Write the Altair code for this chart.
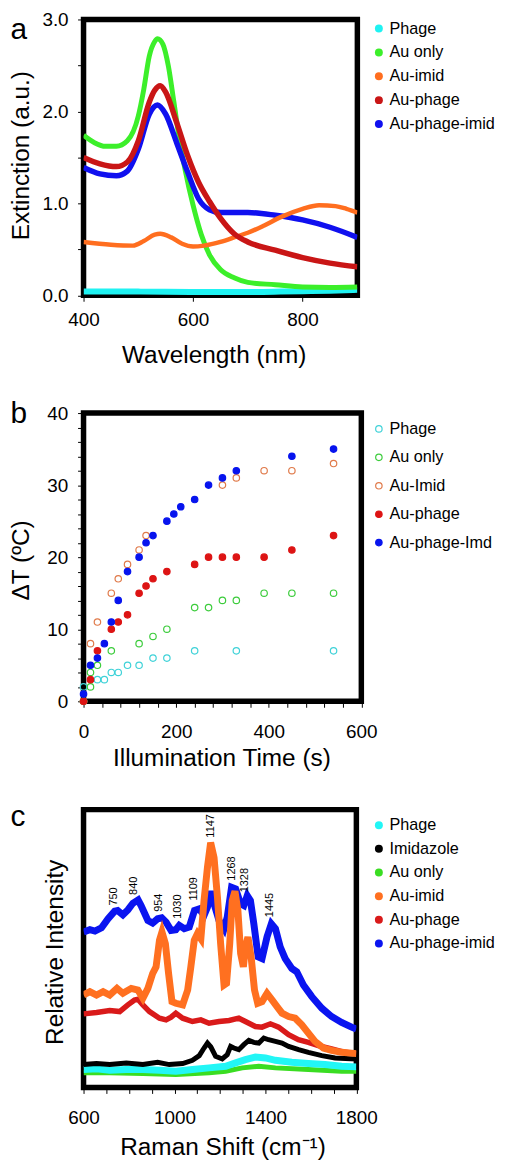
import altair as alt
import pandas as pd

FONT = "Liberation Sans"

# ---------------- Panel a : extinction spectra ----------------
a_series = ["Phage", "Au only", "Au-imid", "Au-phage", "Au-phage-imid"]
a_colors = ["#1ff2f2", "#3cef2a", "#ff6e1f", "#c91616", "#1010ef"]
a_draw_order = ["Phage", "Au only", "Au-phage-imid", "Au-imid", "Au-phage"]
a_widths = {"Phage": 6, "Au only": 5, "Au-imid": 4.5, "Au-phage": 5.5, "Au-phage-imid": 5.5}

a_phage_wl = [400, 500, 600, 700, 760, 800, 850, 900]
a_phage_ext = [0.04, 0.04, 0.035, 0.035, 0.04, 0.045, 0.05, 0.06]

a_auonly_wl = [400, 420, 440, 460, 480, 500, 510, 520, 530, 535, 545, 555, 565, 575, 585,
               600, 615, 630, 650, 675, 700, 750, 800, 850, 900]
a_auonly_ext = [1.74, 1.66, 1.62, 1.62, 1.68, 1.95, 2.24, 2.60, 2.76, 2.79, 2.73, 2.49, 2.10, 1.70, 1.38,
                0.98, 0.66, 0.44, 0.28, 0.19, 0.14, 0.115, 0.09, 0.085, 0.09]

a_auimid_wl = [400, 450, 490, 510, 530, 540, 560, 580, 600, 620, 650, 680, 700, 730, 760,
               800, 830, 860, 880, 900]
a_auimid_ext = [0.58, 0.55, 0.54, 0.59, 0.66, 0.67, 0.63, 0.56, 0.53, 0.54, 0.58, 0.64, 0.68, 0.76, 0.85,
                0.94, 0.98, 0.97, 0.94, 0.90]

a_auphage_wl = [400, 430, 460, 480, 500, 520, 530, 540, 550, 570, 590, 610, 630, 650, 675,
                700, 750, 800, 850, 900]
a_auphage_ext = [1.50, 1.43, 1.40, 1.45, 1.68, 2.10, 2.23, 2.28, 2.21, 1.88, 1.52, 1.23, 1.02, 0.84, 0.67,
                 0.58, 0.49, 0.41, 0.35, 0.31]

a_apimid_wl = [400, 430, 460, 480, 500, 520, 535, 550, 570, 590, 610, 630, 650, 700, 750,
               800, 850, 900]
a_apimid_ext = [1.39, 1.32, 1.30, 1.35, 1.59, 1.97, 2.07, 1.97, 1.66, 1.34, 1.05, 0.93, 0.90, 0.90, 0.87,
                0.82, 0.74, 0.63]

# ---------------- Panel b : heating ----------------
b_series = ["Phage", "Au only", "Au-Imid", "Au-phage", "Au-phage-Imd"]
b_stroke = ["#3fd2d8", "#3ccc3c", "#e07a4a", "#dd1414", "#0714ee"]
b_fill = ["transparent", "transparent", "transparent", "#dd1414", "#0714ee"]
b_size = [42, 42, 42, 80, 80]

b_phage_t = [0, 0, 30, 45, 60, 75, 95, 120, 150, 180, 240, 330, 540]
b_phage_dT = [0, 2, 3, 3, 4, 4, 5, 5, 6, 6, 7, 7, 7]
b_auonly_t = [0, 15, 15, 30, 60, 120, 150, 180, 240, 270, 300, 330, 390, 450, 540]
b_auonly_dT = [0, 2, 4, 5, 7, 8, 9, 10, 13, 13, 14, 14, 15, 15, 15]
b_auimid_t = [0, 15, 30, 60, 75, 95, 120, 135, 300, 330, 390, 450, 540]
b_auimid_dT = [0, 8, 11, 15, 17, 19, 21, 23, 30, 31, 32, 32, 33]
b_auphage_t = [0, 15, 30, 60, 75, 95, 120, 135, 150, 180, 240, 270, 300, 330, 390, 450, 540]
b_auphage_dT = [0, 3, 7, 10, 11, 12, 15, 16, 17, 18, 19, 20, 20, 20, 20, 21, 23]
b_apimd_t = [0, 15, 30, 45, 60, 75, 95, 120, 135, 150, 180, 195, 210, 240, 270, 300, 330, 450, 540]
b_apimd_dT = [1, 5, 6, 8, 11, 14, 18, 20, 22, 23, 25, 26, 27, 28, 30, 31, 32, 34, 35]

# ---------------- Panel c : Raman spectra ----------------
c_series = ["Phage", "Imidazole", "Au only", "Au-imid", "Au-phage", "Au-phage-imid"]
c_colors = ["#22f6f6", "#000000", "#3add22", "#ff7020", "#d91a1a", "#0a14f0"]
c_draw_order = ["Au only", "Phage", "Imidazole", "Au-phage", "Au-phage-imid", "Au-imid"]
c_widths = {"Phage": 7, "Imidazole": 5, "Au only": 5, "Au-imid": 7, "Au-phage": 5.5, "Au-phage-imid": 7}

c_apimid_x = [600, 628, 650, 679, 708, 737, 750, 773, 795, 817, 840, 853, 883, 904, 926, 944, 963, 985,
              1006, 1021, 1043, 1065, 1088, 1109, 1130, 1145, 1160, 1174, 1196, 1218, 1232, 1251, 1269,
              1291, 1305, 1320, 1334, 1349, 1368, 1385, 1407, 1426, 1444, 1465, 1487, 1516, 1538, 1567,
              1604, 1648, 1691, 1735, 1779, 1800]
c_apimid_I = [46.9, 47.6, 47.2, 48.2, 50.9, 53.2, 53.4, 52.1, 53.6, 55.6, 56.6, 54.9, 50.4, 49.6, 50.9,
              51.2, 49.9, 47.4, 47.6, 48.9, 47.9, 48.4, 53.4, 53.9, 51.9, 54.4, 59.2, 55.4, 50.4, 47.9,
              51.4, 60.4, 59.9, 55.4, 54.9, 57.9, 56.4, 49.4, 39.4, 38.9, 45.4, 49.4, 47.9, 42.4, 38.9,
              35.9, 34.9, 30.9, 27.4, 23.9, 21.4, 19.6, 18.2, 17.6]

c_auimid_x = [600, 628, 657, 686, 715, 747, 773, 810, 839, 861, 883, 904, 919, 934, 945, 960, 974, 989,
              1006, 1036, 1058, 1072, 1087, 1101, 1116, 1130, 1145, 1159, 1174, 1189, 1203, 1218, 1229,
              1243, 1254, 1266, 1279, 1291, 1303, 1312, 1323, 1337, 1352, 1366, 1385, 1407, 1429, 1451,
              1473, 1502, 1531, 1560, 1589, 1618, 1655, 1691, 1735, 1800]
c_auimid_I = [27.9, 28.9, 27.9, 28.9, 27.9, 29.9, 28.4, 29.9, 29.4, 26.9, 29.9, 34.4, 36.4, 44.4, 46.9,
              43.4, 34.4, 25.9, 25.4, 24.9, 29.4, 36.4, 44.4, 46.4, 44.9, 56.4, 66.4, 73.9, 69.4, 57.4,
              43.4, 30.9, 31.4, 43.4, 56.4, 59.2, 53.4, 40.4, 36.4, 42.4, 45.4, 39.4, 29.4, 25.4, 25.9,
              28.4, 26.4, 24.4, 22.4, 21.4, 20.9, 18.9, 16.4, 13.9, 11.9, 11.2, 10.6, 10.2]

c_auphage_x = [600, 657, 715, 759, 795, 824, 839, 861, 890, 934, 963, 985, 1006, 1036, 1079, 1116, 1152,
               1196, 1240, 1283, 1312, 1356, 1385, 1422, 1458, 1502, 1545, 1589, 1633, 1691, 1750, 1800]
c_auphage_I = [22.2, 22.6, 23.2, 22.9, 24.9, 26.4, 26.6, 24.9, 22.9, 20.9, 20.4, 21.2, 22.4, 20.9, 19.9,
               20.4, 19.4, 19.9, 20.2, 20.9, 19.9, 18.4, 18.2, 19.2, 18.2, 15.9, 14.4, 13.6, 12.6, 11.6,
               10.6, 10.2]

c_imid_x = [600, 657, 715, 788, 861, 926, 977, 1036, 1079, 1109, 1130, 1145, 1160, 1181, 1210, 1232, 1247,
            1261, 1283, 1305, 1327, 1349, 1371, 1393, 1414, 1444, 1473, 1502, 1546, 1589, 1648, 1706, 1800]
c_imid_I = [6.9, 7.2, 6.9, 7.4, 6.9, 7.6, 6.9, 7.2, 8.2, 9.6, 11.9, 13.4, 12.2, 9.4, 8.6, 9.9, 12.4,
            11.9, 11.4, 12.9, 14.2, 13.6, 13.4, 14.9, 14.4, 13.9, 13.4, 12.4, 11.4, 10.6, 9.6, 8.9, 8.6]

c_phage_x = [600, 657, 715, 788, 861, 934, 1006, 1079, 1152, 1225, 1269, 1312, 1356, 1400, 1444, 1516,
             1589, 1662, 1735, 1800]
c_phage_I = [5.4, 5.6, 5.2, 5.4, 5.4, 5.2, 4.9, 5.4, 5.9, 6.4, 7.4, 8.4, 9.2, 8.9, 8.2, 7.6, 7.2, 6.9,
             6.4, 6.2]

c_auonly_x = [600, 715, 861, 1006, 1152, 1225, 1298, 1371, 1444, 1589, 1735, 1800]
c_auonly_I = [4.4, 4.4, 4.2, 3.9, 4.4, 4.9, 5.9, 6.4, 5.9, 5.4, 4.9, 4.9]

c_peak_labels = ["750", "840", "954", "1030", "1109", "1147", "1268", "1328", "1445"]
c_peak_x = [733, 820, 934, 1014, 1087, 1160, 1251, 1312, 1422]
c_peak_I = [54.9, 58.1, 53.0, 50.9, 56.4, 75.4, 62.4, 58.9, 51.4]

# ---------------- data frames ----------------
def long_df(pairs, xname, yname):
    rows = []
    for name, xs, ys in pairs:
        for xv, yv in zip(xs, ys):
            rows.append({"series": name, xname: xv, yname: yv})
    return pd.DataFrame(rows)

df_a = long_df([
    ("Phage", a_phage_wl, a_phage_ext),
    ("Au only", a_auonly_wl, a_auonly_ext),
    ("Au-imid", a_auimid_wl, a_auimid_ext),
    ("Au-phage", a_auphage_wl, a_auphage_ext),
    ("Au-phage-imid", a_apimid_wl, a_apimid_ext),
], "wl", "ext")

df_b = long_df([
    ("Phage", b_phage_t, b_phage_dT),
    ("Au only", b_auonly_t, b_auonly_dT),
    ("Au-Imid", b_auimid_t, b_auimid_dT),
    ("Au-phage", b_auphage_t, b_auphage_dT),
    ("Au-phage-Imd", b_apimd_t, b_apimd_dT),
], "t", "dT")

df_c = long_df([
    ("Phage", c_phage_x, c_phage_I),
    ("Imidazole", c_imid_x, c_imid_I),
    ("Au only", c_auonly_x, c_auonly_I),
    ("Au-imid", c_auimid_x, c_auimid_I),
    ("Au-phage", c_auphage_x, c_auphage_I),
    ("Au-phage-imid", c_apimid_x, c_apimid_I),
], "shift", "I")

df_peaks = pd.DataFrame({"label": c_peak_labels, "shift": c_peak_x, "I": c_peak_I})

# ---------------- common styling ----------------
axis_common = dict(
    labelFont=FONT, titleFont=FONT, labelColor="black", titleColor="black",
    tickColor="black", tickWidth=1, tickSize=6, domain=False, grid=False,
    titleFontWeight="normal", labelFontSize=19, titleFontSize=24.5,
    labelOverlap=False, labelFlush=False, titleBaseline="alphabetic", titleAlign="center",
)

L = 83.0           # expected left edge of the plot areas on the page
LETTER_X = -73.5   # panel letters

def legend(ly, row_pad, stroke_w):
    return alt.Legend(
        title=None, orient="none", legendX=380.5 - 8.5 - L, legendY=ly, padding=0,
        labelFont=FONT, labelFontSize=16.3, labelColor="black", labelOffset=2.5, labelLimit=300,
        symbolType="circle", symbolSize=64, symbolOpacity=1, symbolStrokeWidth=stroke_w,
        rowPadding=row_pad,
    )

def letter(txt, base_y):
    return alt.Chart(pd.DataFrame({"t": [txt]})).mark_text(
        font=FONT, fontSize=30, align="left", baseline="alphabetic", color="black"
    ).encode(x=alt.value(LETTER_X), y=alt.value(base_y), text="t:N")

# ---------------- panel a ----------------
sc_a = alt.Scale(domain=a_series, range=a_colors)
ax_a_x = alt.Axis(values=[400, 600, 800], format="d", labelPadding=9.5,
                  title="Wavelength (nm)", titleX=214 - L, titleY=67.7, **axis_common)
ax_a_y = alt.Axis(values=[0, 0.5, 1, 1.5, 2, 2.5, 3],
                  labelExpr="datum.value % 1 == 0 ? format(datum.value, '.1f') : ''",
                  labelPadding=9.5, title="Extinction (a.u.)", titleAngle=270,
                  titleX=-55.5, titleY=136.5, **axis_common)
base_a = alt.Chart(df_a).encode(
    x=alt.X("wl:Q", scale=alt.Scale(domain=[400, 900], nice=False, zero=False), axis=ax_a_x),
    y=alt.Y("ext:Q", scale=alt.Scale(domain=[0, 3], nice=False, zero=False), axis=ax_a_y),
    color=alt.Color("series:N", scale=sc_a, legend=None),
)
leg_layer_a = alt.Chart(pd.DataFrame({"series": a_series})).mark_circle(opacity=0).encode(
    color=alt.Color("series:N", scale=sc_a, legend=legend(1, 7, 0))
)
lines_a = [
    base_a.transform_filter(alt.datum.series == s).mark_line(
        strokeWidth=a_widths[s], interpolate="monotone", clip=True)
    for s in a_draw_order
]
panel_a = alt.layer(leg_layer_a, *lines_a, letter("a", 20)).properties(width=275.5, height=277.5)

# ---------------- panel b ----------------
ax_b_x = alt.Axis(values=list(range(0, 601, 40)),
                  labelExpr="datum.value % 200 == 0 ? datum.label : ''", format="d",
                  labelPadding=15.3, title="Illumination Time (s)", titleX=221.7 - L, titleY=64.3,
                  **axis_common)
ax_b_y = alt.Axis(values=list(range(0, 41, 2)),
                  labelExpr="datum.value % 10 == 0 ? datum.label : ''", format="d",
                  labelPadding=10, title="\u0394T (\u00baC)", titleAngle=270,
                  titleX=-55.5, titleY=147.7, **axis_common)
leg_b = legend(7.8, 11.6, 1.2)
points_b = alt.Chart(df_b).mark_point(shape="circle", opacity=1, strokeWidth=1.2, clip=False).encode(
    x=alt.X("t:Q", scale=alt.Scale(domain=[0, 600], nice=False, zero=False), axis=ax_b_x),
    y=alt.Y("dT:Q", scale=alt.Scale(domain=[0, 40], nice=False, zero=False), axis=ax_b_y),
    stroke=alt.Stroke("series:N", scale=alt.Scale(domain=b_series, range=b_stroke), legend=leg_b),
    fill=alt.Fill("series:N", scale=alt.Scale(domain=b_series, range=b_fill), legend=leg_b),
    size=alt.Size("series:N", scale=alt.Scale(domain=b_series, range=b_size), legend=leg_b),
    order=alt.Order("ord:Q"),
).transform_calculate(
    ord="indexof(['Phage','Au only','Au-Imid','Au-phage','Au-phage-Imd'], datum.series)"
)
panel_b = alt.layer(points_b, letter("b", 10.5)).properties(width=279.5, height=290)

# ---------------- panel c ----------------
sc_c = alt.Scale(domain=c_series, range=c_colors)
ax_c_x = alt.Axis(values=list(range(600, 1801, 100)),
                  labelExpr="datum.value % 400 == 200 ? datum.label : ''", format="d",
                  labelPadding=15, title="Raman Shift (cm\u207b\u00b9)", titleX=222.8 - L, titleY=67.2,
                  **axis_common)
ax_c_y = alt.Axis(labels=False, ticks=False, title="Relative Intensity", titleAngle=270,
                  titleX=-21, titleY=143, **axis_common)
x_c = alt.X("shift:Q", scale=alt.Scale(domain=[600, 1800], nice=False, zero=False), axis=ax_c_x)
y_c = alt.Y("I:Q", scale=alt.Scale(domain=[0, 83.85], nice=False, zero=False), axis=ax_c_y)
base_c = alt.Chart(df_c).encode(x=x_c, y=y_c, color=alt.Color("series:N", scale=sc_c, legend=None))
leg_layer_c = alt.Chart(pd.DataFrame({"series": c_series})).mark_circle(opacity=0).encode(
    color=alt.Color("series:N", scale=sc_c, legend=legend(7.5, 6.8, 0))
)
lines_c = [
    base_c.transform_filter(alt.datum.series == s).mark_line(strokeWidth=c_widths[s], clip=True)
    for s in c_draw_order
]
peaks_c = alt.Chart(df_peaks).mark_text(
    font=FONT, fontSize=11, angle=270, align="left", baseline="middle", color="black"
).encode(x=x_c, y=y_c, text="label:N")
panel_c = alt.layer(leg_layer_c, *lines_c, peaks_c, letter("c", 16.7)).properties(width=274.5, height=279.5)

chart = alt.vconcat(panel_a, panel_b, panel_c, spacing=26).resolve_scale(
    color="independent", fill="independent", stroke="independent", size="independent"
).resolve_legend(
    color="independent", fill="independent", stroke="independent", size="independent"
).properties(
    padding={"top": -4, "left": -3, "right": 0, "bottom": 0}
).configure(font=FONT).configure_view(stroke="black", strokeWidth=5.5)

chart.save("out.html", embed_options={"renderer": "svg", "actions": False})
